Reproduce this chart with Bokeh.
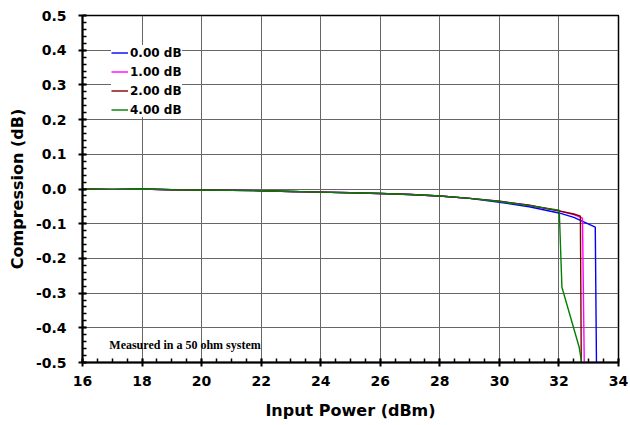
from bokeh.plotting import figure
from bokeh.models import FixedTicker, Legend, LegendItem, Label, PrintfTickFormatter
from bokeh.embed import file_html
from bokeh.resources import INLINE

# Shared low-power portion (dBm, dB)
base_power = [16, 17, 18, 19, 20, 21, 22, 23, 24, 25, 26, 27, 28, 29, 30, 31]
base_comp = [0.0, -0.001, 0.0, -0.002, -0.003, -0.004, -0.005, -0.007, -0.009,
             -0.011, -0.013, -0.016, -0.020, -0.027, -0.036, -0.048]

p0_power = base_power + [32.0, 32.5, 32.74, 33.22, 33.26]
p0_comp = base_comp[:-2] + [-0.038, -0.051, -0.069, -0.082, -0.091, -0.110, -0.5]

p1_power = base_power + [32.0, 32.5, 32.79, 32.85]
p1_comp = base_comp[:-2] + [-0.035, -0.047, -0.063, -0.074, -0.084, -0.5]

p2_power = base_power + [32.0, 32.5, 32.72, 32.75]
p2_comp = base_comp[:-2] + [-0.035, -0.047, -0.063, -0.072, -0.078, -0.5]

p4_power = base_power + [32.01, 32.1, 32.68, 32.76]
p4_comp = base_comp[:-2] + [-0.036, -0.048, -0.061, -0.283, -0.456, -0.5]

series_names = ["0.00 dB", "1.00 dB", "2.00 dB", "4.00 dB"]
series_colors = ["#0000ff", "#ff00ff", "#800000", "#008000"]

x_ticks = [16, 18, 20, 22, 24, 26, 28, 30, 32, 34]
y_ticks = [-0.5, -0.4, -0.3, -0.2, -0.1, 0.0, 0.1, 0.2, 0.3, 0.4, 0.5]

FONT = "DejaVu Sans"

p = figure(width=630, height=425, x_range=(16, 34), y_range=(-0.5, 0.5),
           output_backend="svg", toolbar_location=None,
           min_border_left=82, min_border_right=12, min_border_top=15,
           min_border_bottom=63)
p.background_fill_color = "white"
p.border_fill_color = "white"
p.outline_line_color = "black"
p.outline_line_width = 1.5

xs = [p0_power, p1_power, p2_power, p4_power]
ys = [p0_comp, p1_comp, p2_comp, p4_comp]
items = []
for xv, yv, name, col in zip(xs, ys, series_names, series_colors):
    r = p.line(xv, yv, line_color=col, line_width=1.4)
    items.append(LegendItem(label=name, renderers=[r]))

minor_x = [16 + 0.5 * i for i in range(37)]
minor_y = [round(-0.5 + 0.02 * i, 2) for i in range(51)]
p.xaxis.ticker = FixedTicker(ticks=x_ticks, minor_ticks=minor_x)
p.yaxis.ticker = FixedTicker(ticks=y_ticks, minor_ticks=minor_y)
p.yaxis.formatter = PrintfTickFormatter(format="%.1f")

for ax in (p.xaxis[0], p.yaxis[0]):
    ax.axis_line_color = "black"
    ax.axis_line_width = 2
    ax.major_tick_line_color = "black"
    ax.major_tick_line_width = 2
    ax.minor_tick_line_color = "black"
    ax.minor_tick_line_width = 1.5
    ax.major_tick_in = 4
    ax.major_tick_out = 4
    ax.minor_tick_in = 4
    ax.minor_tick_out = 0
    ax.major_label_text_font = FONT
    ax.major_label_text_font_style = "bold"
    ax.major_label_text_font_size = "14px"
    ax.major_label_text_color = "black"
    ax.axis_label_text_font = FONT
    ax.axis_label_text_font_style = "bold"
    ax.axis_label_text_font_size = "16px"
    ax.axis_label_text_color = "black"

p.xaxis.axis_label = "Input Power (dBm)"
p.yaxis.axis_label = "Compression (dB)"
p.xaxis.major_label_standoff = 9
p.yaxis.major_label_standoff = 12
p.xaxis.axis_label_standoff = 12
p.yaxis.axis_label_standoff = 6

p.xgrid.grid_line_color = "#666666"
p.ygrid.grid_line_color = "#666666"
p.xgrid.grid_line_width = 1
p.ygrid.grid_line_width = 1

legend = Legend(items=items, location=(29, 245))
legend.label_text_font = FONT
legend.label_text_font_style = "bold"
legend.label_text_font_size = "12px"
legend.label_text_color = "black"
legend.glyph_width = 17
legend.glyph_height = 15
legend.label_height = 15
legend.label_standoff = 2
legend.spacing = 4
legend.padding = 3
legend.margin = 0
legend.border_line_color = None
legend.background_fill_color = "white"
legend.background_fill_alpha = 1.0
p.add_layout(legend, "center")

note = Label(x=16.9, y=-0.451, text="Measured in a 50 ohm system",
             text_font="Liberation Serif", text_font_style="bold",
             text_font_size="12px", text_baseline="middle", text_color="black")
p.add_layout(note)

open("out.html", "w").write(file_html(p, INLINE))
